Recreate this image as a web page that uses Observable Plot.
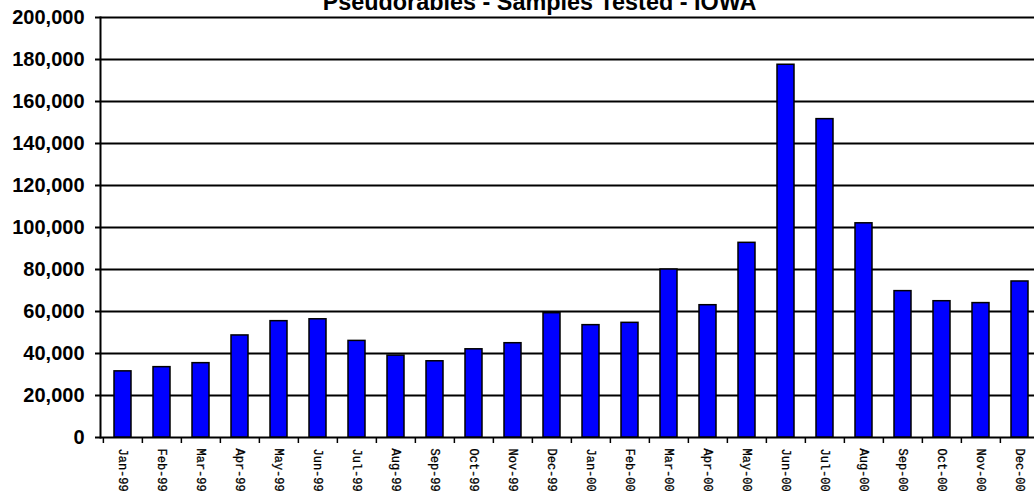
<!DOCTYPE html>
<html>
<head>
<meta charset="utf-8">
<script src="https://cdn.jsdelivr.net/npm/d3@7"></script>
<script src="https://cdn.jsdelivr.net/npm/@observablehq/plot@0.6"></script>
<style>
  html, body { margin: 0; padding: 0; background: white; overflow: hidden; }
  #chart svg { display: block; overflow: hidden; }
</style>
</head>
<body>
<div id="chart"></div>
<script>
// Monthly samples tested for pseudorabies in Iowa, 1999–2000
const title = "Pseudorabies - Samples Tested - IOWA";
const months = [
  "Jan-99", "Feb-99", "Mar-99", "Apr-99", "May-99", "Jun-99",
  "Jul-99", "Aug-99", "Sep-99", "Oct-99", "Nov-99", "Dec-99",
  "Jan-00", "Feb-00", "Mar-00", "Apr-00", "May-00", "Jun-00",
  "Jul-00", "Aug-00", "Sep-00", "Oct-00", "Nov-00", "Dec-00"
];
const samples = [
  31500, 33500, 35400, 48600, 55400, 56300,
  46000, 39000, 36300, 42000, 44900, 59200,
  53500, 54600, 80000, 63000, 92700, 177500,
  151600, 102000, 69700, 64900, 64000, 74300
];
const yTicks = [0, 20000, 40000, 60000, 80000, 100000, 120000, 140000, 160000, 180000, 200000];

const rows = months.map((m, i) => ({month: m, value: samples[i]}));

const width = 1034;
const height = 492;
const marginLeft = 100;
const marginRight = -8; // the last category runs past the right edge
const band = (width - marginLeft - marginRight) / months.length;

const sans = "'Liberation Sans', Arial, sans-serif";
const mono = "'Liberation Mono', 'Courier New', monospace";

const chart = Plot.plot({
  width,
  height,
  marginLeft,
  marginRight,
  marginTop: 17,
  marginBottom: 55,
  style: {background: "white", overflow: "hidden"},
  x: {type: "band", domain: months, padding: 0, axis: null},
  y: {domain: [0, 200000], axis: null},
  marks: [
    // horizontal gridlines, including the zero baseline
    Plot.ruleY(yTicks, {stroke: "black", strokeWidth: 2}),
    // bars
    Plot.barY(rows, {
      x: "month", y: "value",
      fill: "#0000ff", stroke: "black", strokeWidth: 1.5,
      insetLeft: 11, insetRight: 11
    }),
    // vertical value axis line
    Plot.frame({anchor: "left", stroke: "black", strokeWidth: 2}),
    // value axis ticks and labels
    Plot.axisY({
      ticks: yTicks,
      tickFormat: d3.format(","),
      label: null,
      tickSize: 5,
      tickPadding: 11,
      strokeWidth: 2,
      fontSize: 20,
      fontWeight: "bold",
      fontFamily: sans,
      fill: "black"
    }),
    // category tick marks between months
    Plot.ruleX(months, {
      x: d => d, y1: 0, y2: 0,
      insetBottom: -6, dx: -band / 2,
      stroke: "black", strokeWidth: 1.5
    }),
    // rotated month labels
    Plot.text(months, {
      x: d => d,
      text: d => d,
      frameAnchor: "bottom",
      rotate: 90,
      textAnchor: "start",
      lineAnchor: "middle",
      dy: 11,
      fontSize: 12,
      fontFamily: mono,
      fill: "black",
      stroke: "black",
      strokeWidth: 0.3
    }),
    // chart title
    Plot.text([title], {
      text: d => d,
      frameAnchor: "top",
      lineAnchor: "bottom",
      dx: -32,
      dy: -8,
      fontSize: 23.4,
      fontWeight: "bold",
      fontFamily: sans,
      fill: "black"
    })
  ]
});

document.getElementById("chart").append(chart);
</script>
</body>
</html>
